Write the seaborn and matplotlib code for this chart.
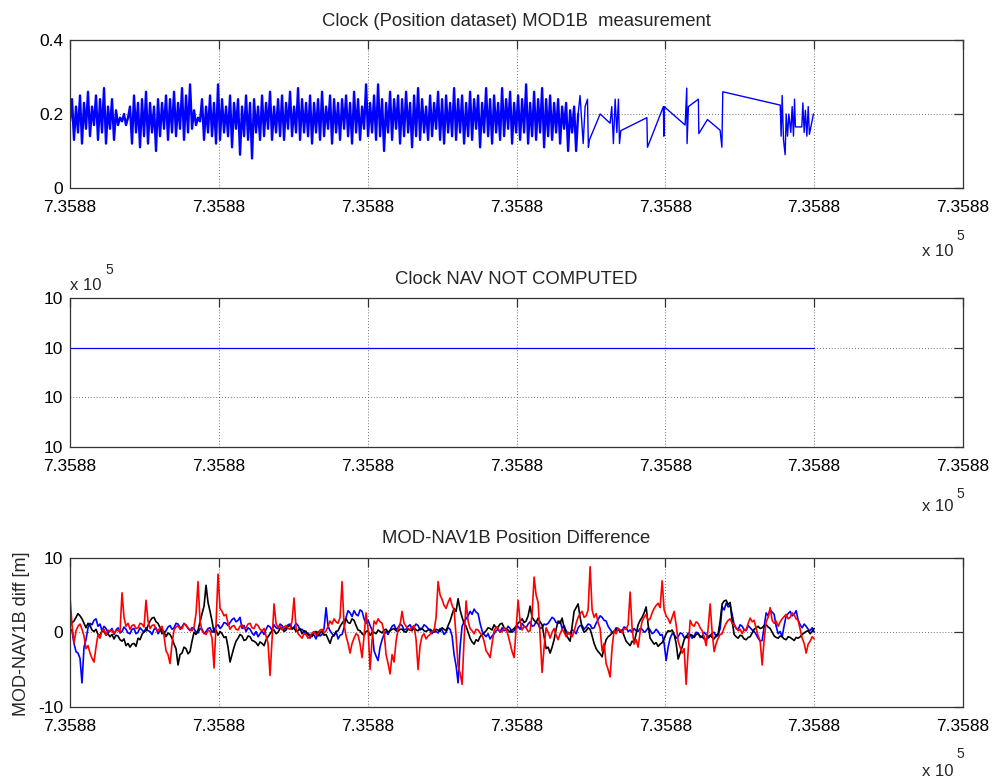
import numpy as np
import pandas as pd
import matplotlib
matplotlib.use("Agg")
import matplotlib.pyplot as plt
import seaborn as sns

# ---------------- data ----------------
# tick positions (days after the epoch) and their labels
x_ticks = [0.0, 0.1, 0.2, 0.3, 0.4, 0.5, 0.6]
x_tick_labels = ["7.3588"] * 7

# clock from the position dataset: densely sampled part (t = 0 .. 0.3414)
clock_dense = [
    0.18, 0.24, 0.13, 0.22, 0.15, 0.25, 0.12, 0.23, 0.16, 0.26, 0.14, 0.22, 0.17, 0.25, 0.13,
    0.24, 0.15, 0.27, 0.12, 0.22, 0.16, 0.24, 0.13, 0.21, 0.17, 0.19, 0.18, 0.20, 0.17, 0.19,
    0.22, 0.12, 0.25, 0.15, 0.23, 0.11, 0.24, 0.14, 0.26, 0.12, 0.23, 0.15, 0.22, 0.10, 0.24,
    0.14, 0.23, 0.16, 0.25, 0.13, 0.24, 0.15, 0.26, 0.14, 0.23, 0.16, 0.27, 0.13, 0.25, 0.15,
    0.28, 0.16, 0.21, 0.17, 0.19, 0.18, 0.24, 0.13, 0.22, 0.15, 0.25, 0.14, 0.23, 0.12, 0.28,
    0.13, 0.24, 0.15, 0.22, 0.14, 0.25, 0.11, 0.23, 0.16, 0.24, 0.09, 0.22, 0.14, 0.25, 0.13,
    0.23, 0.08, 0.24, 0.15, 0.22, 0.13, 0.25, 0.14, 0.23, 0.16, 0.26, 0.13, 0.22, 0.15, 0.24,
    0.14, 0.25, 0.13, 0.23, 0.16, 0.26, 0.14, 0.22, 0.15, 0.27, 0.13, 0.24, 0.15, 0.23, 0.14,
    0.25, 0.12, 0.23, 0.15, 0.24, 0.13, 0.26, 0.14, 0.22, 0.16, 0.25, 0.12, 0.24, 0.15, 0.23,
    0.13, 0.24, 0.16, 0.25, 0.14, 0.23, 0.12, 0.26, 0.15, 0.24, 0.13, 0.22, 0.16, 0.28, 0.14,
    0.23, 0.15, 0.25, 0.13, 0.28, 0.14, 0.24, 0.10, 0.23, 0.15, 0.26, 0.13, 0.24, 0.16, 0.25,
    0.12, 0.24, 0.14, 0.26, 0.15, 0.23, 0.11, 0.25, 0.14, 0.27, 0.13, 0.24, 0.15, 0.22, 0.13,
    0.25, 0.14, 0.23, 0.16, 0.26, 0.13, 0.24, 0.12, 0.25, 0.15, 0.23, 0.14, 0.27, 0.13, 0.24,
    0.15, 0.25, 0.12, 0.23, 0.14, 0.26, 0.13, 0.24, 0.16, 0.25, 0.11, 0.23, 0.15, 0.27, 0.14,
    0.24, 0.12, 0.25, 0.15, 0.23, 0.13, 0.27, 0.14, 0.24, 0.16, 0.26, 0.12, 0.23, 0.15, 0.25,
    0.13, 0.24, 0.15, 0.28, 0.12, 0.23, 0.14, 0.26, 0.13, 0.24, 0.15, 0.27, 0.11, 0.24, 0.14,
    0.25, 0.13, 0.23, 0.15, 0.24, 0.12, 0.22, 0.16, 0.23, 0.10, 0.21, 0.15, 0.22, 0.10, 0.20,
]
clock_dense_end = 0.3414

# clock from the position dataset: sparse part with data gaps
clock_sparse_t = [
    0.3427, 0.3448, 0.3461, 0.3477, 0.3483, 0.3490, 0.3562, 0.3629, 0.3640,
    0.3651, 0.3663, 0.3674, 0.3685, 0.3692, 0.3701, 0.3876, 0.3880, 0.3987,
    0.3990, 0.3992, 0.4133, 0.4144, 0.4146, 0.4155, 0.4222, 0.4225, 0.4283,
    0.4368, 0.4380, 0.4386, 0.4772, 0.4778, 0.4785, 0.4794, 0.4805, 0.4812,
    0.4821, 0.4830, 0.4843, 0.4852, 0.4861, 0.4868, 0.4874, 0.4917, 0.4924,
    0.4933, 0.4941, 0.4951, 0.4960, 0.4968, 0.4995,
]
clock_sparse_v = [
    0.25, 0.12, 0.22, 0.24, 0.11, 0.13, 0.20, 0.175, 0.22,
    0.12, 0.24, 0.15, 0.24, 0.12, 0.155, 0.19, 0.11, 0.22,
    0.14, 0.22, 0.17, 0.27, 0.12, 0.22, 0.24, 0.147, 0.185,
    0.156, 0.11, 0.26, 0.224, 0.14, 0.25, 0.13, 0.09, 0.20,
    0.14, 0.20, 0.15, 0.22, 0.14, 0.24, 0.165, 0.165, 0.23,
    0.15, 0.21, 0.14, 0.22, 0.145, 0.20,
]

# navigation clock (not computed: constant fill value)
nav_t = [0.0, 0.5]
nav_clock = [2.0, 2.0]
nav_yticks = [0, 1, 2, 3]
nav_ytick_labels = ["10", "10", "10", "10"]

# MOD - NAV1B position difference [m], three components, t = 0 .. 0.5
diff_end = 0.5
diff_x = [
    0.5, 0.2, -1.5, -2.6, -2.8, -3.5, -6.8, -2.0, -1.0, 0.6, 1.2, 1.0, 1.6, 1.8, 0.8, 1.1, 0.2, 0.8, 0.5, -0.1,
    0.2, 0.5, -0.3, 0.3, 0.6, -0.1, 0.1, 0.7, 0.4, -0.1, -0.2, 0.4, 0.5, -0.2, 0.0, 0.6, 0.3, 0.0, 0.6, 0.2,
    0.1, -0.3, 0.4, 0.6, -0.2, 0.2, 0.5, -0.1, 0.2, 0.7, 0.9, 0.4, 0.6, 1.2, 1.1, 0.6, 0.7, 1.2, 0.9, 0.5,
    0.2, 0.6, 0.5, 0.0, -0.1, 0.5, 0.4, -0.2, 0.1, 0.5, 0.6, 0.0, 0.3, 0.8, 1.0, 0.5, 0.8, 1.3, 1.2, 0.9,
    1.3, 1.7, 1.9, 1.4, 1.6, 2.0, 0.5, 0.9, 0.1, 0.6, 0.4, -0.1, -0.4, 0.1, -0.6, -0.2, 0.2, -0.3, 0.4, 0.9,
    0.7, 0.3, 1.0, 0.6, 0.5, 1.1, 0.9, 0.4, 0.6, 1.0, 1.1, 0.5, 0.7, 1.2, 0.9, 0.3, 0.4, 0.1, -0.3, -0.1,
    -0.8, -0.2, -0.4, -0.9, 0.1, -0.5, -0.3, 0.5, 3.3, 0.8, 0.2, -0.2, -0.5, 0.1, -0.9, -0.4, -0.3, 0.6, 2.0, 2.9,
    2.6, 2.1, 2.9, 2.4, 2.2, 3.0, 2.8, 1.8, 1.2, 1.6, 0.9, 0.3, -2.5, -3.2, -3.8, -2.0, -1.0, -0.3, 0.1, -0.3,
    0.3, 0.8, 1.0, 0.4, 0.6, 1.1, 0.9, 0.3, 0.4, 0.8, 1.0, 0.4, 0.7, 1.1, 0.9, 0.3, 0.5, 1.0, 0.8, 0.5,
    0.2, -0.2, 0.4, 0.1, -0.1, 0.5, 0.3, -0.3, 0.0, 0.6, 0.4, -0.5, -3.0, -4.5, -6.8, -2.0, 0.8, 1.4, 1.8, 2.2,
    2.8, 2.4, 3.1, 2.7, 2.5, 1.2, 0.2, -0.3, -0.6, -0.2, -0.9, -0.5, -0.2, 0.2, 0.4, 0.0, 0.6, 0.2, 0.3, 0.8,
    0.5, 0.0, 0.2, 0.6, 0.8, 0.4, 1.2, 0.8, 0.6, 1.1, 1.4, 0.8, 0.9, 1.4, 1.1, 0.5, 0.6, 1.1, 1.0, 1.2,
    1.6, 2.0, 1.8, 1.3, 1.2, 1.5, 0.5, 0.9, 0.2, -0.2, -0.1, 0.3, 0.2, -0.2, 0.6, 0.9, 0.9, 0.4, 0.7, 1.1,
    1.0, 0.5, 0.6, 1.2, 1.7, 2.2, 2.0, 1.6, 1.5, 0.8, 0.4, 0.0, 0.1, 0.6, 0.5, 0.0, 0.2, 0.7, 0.6, 0.1,
    0.3, 0.0, 0.5, 0.2, 0.1, 0.5, 0.4, 0.0, 0.2, 0.6, 0.3, -0.2, 0.0, 0.4, 0.1, -0.4, -0.3, -1.5, -3.8, -2.0,
    -0.8, -0.2, -0.3, -0.8, -0.6, -0.1, -0.2, -0.7, -0.7, -0.1, -0.4, -0.8, -0.5, 0.0, -0.1, -0.7, -0.6, 0.0, -0.3, -0.8,
    -0.5, -0.1, 0.0, -0.6, -0.4, 0.5, 3.4, 3.0, 3.9, 3.4, 3.6, 2.4, 1.0, 0.5, 0.4, 1.0, 0.8, 0.3, 0.2, 0.9,
    0.6, 0.3, 0.1, -0.3, -0.8, -1.2, -1.1, 0.8, 2.6, 2.2, 3.0, 2.7, 2.4, 0.8, -0.2, 0.1, -0.6, 0.9, 2.2, 2.5,
    2.8, 2.2, 2.4, 2.9, 1.6, 1.0, 0.6, 1.1, 0.8, 0.4, 0.2, 0.6, 0.0,
]
diff_y = [
    0.8, 1.3, 1.5, 2.0, 2.5, 2.2, 1.8, 1.2, 0.6, 1.2, 0.9, 0.3, 0.1, 0.4, -0.3, -0.4, 0.2, 0.1, -0.4, -0.2,
    -0.6, -0.3, -0.9, -0.4, -0.5, -1.0, -1.2, -0.9, -1.8, -1.5, -2.0, -1.6, -1.5, -1.9, -0.8, -1.0, -0.3, 0.1, 0.2, 0.9,
    1.5, 1.9, 2.0, 1.4, 1.2, 0.6, -0.2, 0.1, -0.6, -0.1, -0.3, -0.8, -1.6, -2.2, -4.4, -3.0, -2.8, -2.0, -2.2, -2.9,
    -2.6, -1.2, 0.0, -0.3, 0.3, 1.4, 2.5, 3.5, 6.3, 4.0, 2.8, 1.5, 0.0, 0.3, -0.4, 0.1, -0.2, -0.7, -0.6, -2.0,
    -4.0, -3.0, -2.0, -1.2, -0.8, -0.3, -0.5, -1.1, -1.0, -0.5, -0.6, -1.1, -1.2, -1.4, -1.8, -1.3, -1.5, -1.8, -1.0, -0.6,
    -0.2, 0.2, 0.3, -0.2, 0.0, 0.5, 0.6, 0.1, 0.3, 0.8, 0.9, 0.4, 0.6, 0.1, 0.2, 0.5, -0.2, 0.2, 0.1, -0.4,
    -0.3, -0.6, 0.0, 0.1, -0.5, -0.1, 0.2, -0.4, -0.3, -0.9, -1.5, -0.6, -0.4, 0.1, 0.2, 0.8, 1.2, 1.6, 1.8, 1.3,
    1.2, 1.8, 1.6, 0.9, 0.3, 0.2, -0.2, -0.4, 0.1, 0.2, -0.4, -0.1, 0.0, -0.2, 0.3, 0.1, -0.1, 0.3, 0.4, 0.0,
    0.2, 0.4, 0.5, 0.2, 0.1, 0.4, 0.4, 0.1, 0.0, 0.4, 0.3, 0.2, 0.6, 0.3, 0.2, 0.5, 0.5, 0.2, 0.1, 0.3,
    0.4, 0.2, 0.0, 0.4, 0.3, 0.1, 0.6, 0.4, 0.2, 0.9, 1.5, 2.4, 3.2, 2.8, 4.5, 3.0, 2.0, 1.2, 0.8, 0.0,
    -0.8, -1.3, -1.6, -1.0, -1.2, -0.6, -0.3, -0.1, 0.2, 0.6, 0.5, 0.3, 1.0, 0.6, 0.7, 1.1, 1.2, 0.6, 0.4, 0.3,
    0.0, 0.3, 0.5, 0.8, 1.2, 1.5, 1.8, 1.3, 1.5, 2.2, 3.5, 2.0, 1.6, 1.3, 1.9, 1.4, 1.0, -0.6, -2.2, -2.0,
    -2.8, -2.0, -1.0, 0.4, 1.5, 1.2, 1.9, 0.6, -0.3, -0.8, -1.2, 0.8, 2.8, 3.3, 3.8, 2.0, 0.6, 0.0, 0.2, 0.6,
    0.4, -0.5, -1.5, -2.2, -2.6, -2.9, -3.3, -2.0, -1.0, -0.6, -0.4, -0.1, 0.0, 0.3, 0.5, 0.1, 0.3, -0.5, -1.2, -1.5,
    -1.8, -1.2, -1.4, -0.2, 1.0, 1.6, 2.0, 2.6, 3.4, 1.0, -0.8, -1.2, -1.6, -1.4, -1.9, -1.6, -1.4, -0.9, -0.2, 0.2,
    0.1, 0.3, -0.3, -1.5, -3.6, -2.8, -2.0, -1.0, -0.5, -0.8, -0.3, -0.4, -0.7, -0.3, -0.2, -0.5, -0.6, -0.9, -1.0, -0.6,
    -0.4, -0.7, -0.9, -0.4, -0.2, 1.5, 3.8, 4.2, 4.3, 3.7, 4.0, 1.5, -0.3, -0.6, -0.8, -0.4, -0.5, -0.9, -1.0, -0.7,
    -0.6, -0.1, 0.4, 0.6, 0.8, 0.5, 0.6, 0.9, 1.0, 0.7, 0.5, 0.0, -0.5, -0.7, -0.8, -0.5, -0.6, -0.9, -1.0, -0.6,
    -0.7, -0.9, -1.1, -0.7, -0.8, -0.6, -0.3, -0.1, 0.1, 0.2, -0.2, 0.1, 0.5,
]
diff_z = [
    4.8, 1.0, -1.5, 0.2, 0.8, 1.1, 0.4, -0.5, -2.2, -1.8, -2.8, -3.5, -4.0, -2.0, -0.3, -0.8, 0.2, 0.4, -0.4, 0.3,
    0.1, 0.3, -0.2, 0.2, 0.3, 0.0, 5.3, 2.0, 0.8, 1.2, 0.4, 0.9, 1.0, 0.5, 0.6, 1.2, 1.1, 0.7, 4.3, 1.5,
    0.5, 0.9, 1.0, 0.4, 0.2, 0.6, 0.8, -0.5, -2.5, -3.0, -4.2, -1.5, 0.3, 0.7, 0.9, 0.4, 0.5, 1.1, 1.0, 0.6,
    0.3, 0.2, 0.7, 2.5, 6.8, 1.5, 0.2, -0.1, -0.3, 0.3, 0.1, -0.8, -4.8, 1.0, 7.8, 3.2, 2.8, 2.2, 2.4, 1.2,
    0.4, 0.8, 0.9, 0.4, 0.3, 0.8, 1.0, 0.5, 0.6, 1.1, 1.2, 0.6, 0.5, 1.1, 0.9, 0.4, 0.2, 0.5, -0.5, -1.5,
    -5.8, -1.0, 3.8, 1.2, 0.6, 0.9, 0.3, 0.7, 0.9, 0.5, 0.4, 1.5, 4.6, 0.6, -0.2, -0.5, -0.8, -0.2, -0.3, -0.8,
    -0.6, -0.1, 0.1, -0.4, -0.2, 0.3, 0.4, -0.1, 0.2, 0.8, 1.5, 1.1, 1.8, 1.4, 1.2, 2.0, 6.8, 1.0, -0.5, -1.5,
    -2.8, -1.5, -0.8, -0.2, -0.4, -1.6, -3.4, -0.5, 2.6, 0.5, -5.0, -1.0, 1.5, 1.1, 1.8, 1.4, 1.2, 0.0, -3.0, -4.2,
    -5.6, -3.0, -4.0, -1.2, 0.4, 1.0, 2.8, 1.2, 0.8, 0.5, 0.3, 0.7, 0.9, -1.0, -5.0, -1.8, -0.5, -0.2, -0.9, -0.5,
    -0.3, 0.1, 0.2, 2.0, 6.8, 5.0, 4.4, 3.6, 3.2, 4.0, 4.6, 3.6, 3.0, -0.5, -4.5, -5.5, -7.0, -1.0, 4.2, 1.5,
    0.5, 0.2, -0.2, 0.4, 0.3, -0.1, -0.4, -1.2, -2.5, -2.9, -3.4, -1.5, 0.2, 0.7, 0.5, 0.0, 0.1, 0.6, 0.4, -0.4,
    -1.5, -2.6, -3.4, 0.5, 4.3, 1.5, 0.3, 0.8, 0.6, 0.1, 0.2, 2.5, 7.4, 5.0, 4.0, -0.5, -5.4, -2.0, 0.6, 0.0,
    -0.8, 0.0, 0.5, -0.4, -1.0, -0.2, 0.4, 0.0, -0.6, 0.0, -0.3, -0.6, 0.1, 1.2, 2.0, 2.5, 2.8, 2.0, 2.2, 3.0,
    8.8, 3.0, 2.0, 2.5, 1.3, 0.5, -2.5, -1.5, -4.2, -5.0, -6.0, -2.0, 0.2, -0.2, 0.5, 0.3, -0.1, 0.5, 0.4, 1.0,
    5.4, 0.5, -1.6, -1.0, -2.0, 0.0, 1.5, 2.0, 2.4, 1.6, 1.8, 2.6, 3.2, 3.6, 3.9, 3.3, 6.9, 3.0, 2.2, 1.8,
    1.2, 2.0, 2.8, 1.0, -1.2, -2.0, -2.8, -2.2, -7.0, -2.5, 1.6, 1.0, 0.8, 1.4, 1.2, 0.6, 0.2, -0.6, -1.8, 0.5,
    3.8, 0.0, -2.6, -1.5, -0.8, -0.3, -0.2, 0.6, 1.2, 1.6, 1.8, 1.2, 1.1, 0.6, 0.2, 0.4, -0.2, 0.4, 0.3, 1.2,
    1.9, 1.4, 1.6, 0.5, -0.5, -1.2, -4.4, -1.0, 1.4, 2.0, 3.3, 1.6, 1.2, 1.5, 0.8, 1.4, 1.8, 2.1, 2.4, 1.8,
    2.0, 2.6, 2.3, 1.8, 1.6, 0.4, -0.8, -1.5, -2.8, -1.6, -1.2, -0.6, -0.9,
]
diff_components = ["X", "Y", "Z"]
diff_colors = {"X": "#0000ff", "Y": "#000000", "Z": "#ff0000"}

# ---------------- tables ----------------
t_dense = np.linspace(0.0, clock_dense_end, len(clock_dense))
clock_dense_df = pd.DataFrame({"t": t_dense, "clock": clock_dense})
# the sparse stretch continues from the last dense sample
clock_sparse_df = pd.DataFrame({
    "t": np.concatenate([[t_dense[-1]], clock_sparse_t]),
    "clock": np.concatenate([[clock_dense[-1]], clock_sparse_v]),
})
nav_df = pd.DataFrame({"t": nav_t, "clock": nav_clock})

diff_df = pd.concat([
    pd.DataFrame({"t": np.linspace(0.0, diff_end, len(vals)),
                  "diff": vals, "component": name})
    for name, vals in zip(diff_components, [diff_x, diff_y, diff_z])
], ignore_index=True)

# ---------------- figure ----------------
sns.set_style("white")
plt.rcParams["font.family"] = ["Liberation Sans", "DejaVu Sans"]
FS_TICK = 12.5
FS_TITLE = 13.3
FS_EXP = 12

fig = plt.figure(figsize=(10, 7.78), dpi=100)
ax1 = fig.add_axes([0.07, 0.7584, 0.893, 0.1902])
ax2 = fig.add_axes([0.07, 0.4254, 0.893, 0.1915])
ax3 = fig.add_axes([0.07, 0.0916, 0.893, 0.1915])

sns.lineplot(data=clock_dense_df, x="t", y="clock", estimator=None,
             sort=False, color="#0000ff", linewidth=1.7, ax=ax1)
sns.lineplot(data=clock_sparse_df, x="t", y="clock", estimator=None,
             sort=False, color="#0000ff", linewidth=1.0, ax=ax1)
sns.lineplot(data=nav_df, x="t", y="clock", estimator=None, sort=False,
             color="#0000ff", linewidth=0.9, ax=ax2)
sns.lineplot(data=diff_df, x="t", y="diff", hue="component",
             hue_order=diff_components, palette=diff_colors,
             estimator=None, sort=False, linewidth=1.2, legend=False, ax=ax3)


def style_axes(ax, title, ylim, yticks, ylabels):
    ax.set_xlim(0.0, 0.6)
    ax.set_xticks(x_ticks)
    ax.set_xticklabels(x_tick_labels)
    ax.set_ylim(*ylim)
    ax.set_yticks(yticks)
    ax.set_yticklabels(ylabels)
    ax.set_xlabel("")
    ax.set_ylabel("")
    ax.grid(True, linestyle=(0, (1, 2.5)), color="#444444", linewidth=0.6)
    ax.set_axisbelow(True)
    for sp in ax.spines.values():
        sp.set_visible(True)
        sp.set_color("#333333")
        sp.set_linewidth(0.9)
    ax.tick_params(direction="in", length=6.5, width=0.9, color="#333333",
                   top=True, right=True, labelsize=FS_TICK, labelcolor="black")
    ax.tick_params(axis="x", pad=8.5)
    ax.tick_params(axis="y", pad=5)
    ax.set_title(title, fontsize=FS_TITLE, pad=10.3)


style_axes(ax1, "Clock (Position dataset) MOD1B  measurement",
           (0, 0.4), [0, 0.2, 0.4], ["0", "0.2", "0.4"])
style_axes(ax2, "Clock NAV NOT COMPUTED",
           (0, 3), nav_yticks, nav_ytick_labels)
style_axes(ax3, "MOD-NAV1B Position Difference",
           (-10, 10), [-10, 0, 10], ["-10", "0", "10"])


def fig_px(x, y):
    return x / 1000.0, 1.0 - y / 778.0


def exponent_label(x_right, base_y, sup_y):
    fig.text(*fig_px(x_right, base_y), "x 10", ha="right", va="baseline",
             fontsize=FS_EXP)
    fig.text(*fig_px(x_right + 2.5, sup_y), "5", ha="left", va="baseline",
             fontsize=10)


# x-axis multipliers under each panel
exponent_label(953.5, 256.5, 239.5)
exponent_label(953.5, 511.0, 497.5)
exponent_label(953.5, 776.0, 758.5)

# y-axis multiplier of the middle panel
fig.text(*fig_px(70.5, 290.0), "x 10", ha="left", va="baseline",
         fontsize=FS_EXP)
fig.text(*fig_px(105.5, 274.0), "5", ha="left", va="baseline", fontsize=10)

# y-axis label of the bottom panel
fig.text(*fig_px(21.5, 634.0), "MOD-NAV1B diff [m]", rotation=90,
         ha="center", va="center", fontsize=13)

fig.savefig("out.png", dpi=100)
